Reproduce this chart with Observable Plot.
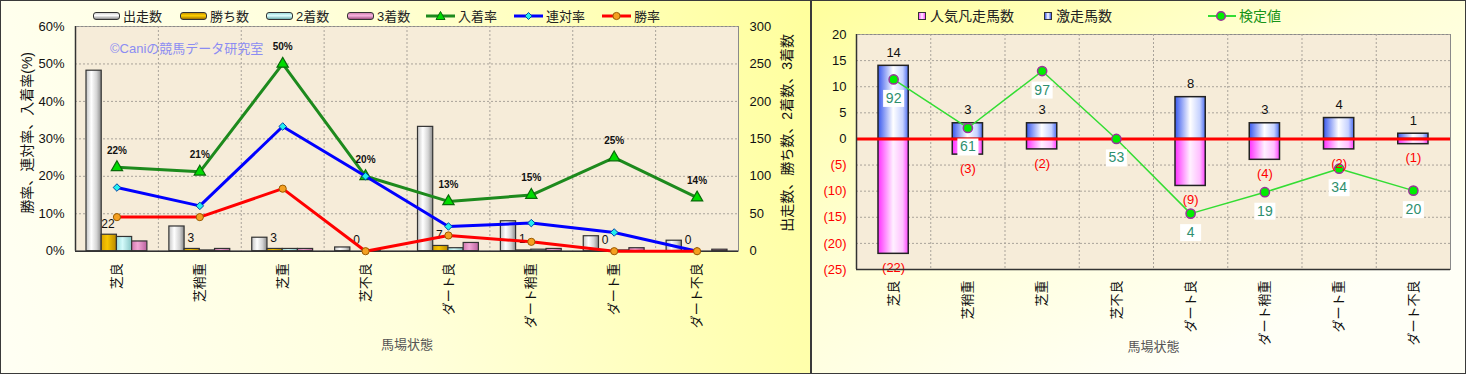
<!DOCTYPE html>
<html><head><meta charset="utf-8">
<script src="https://cdn.jsdelivr.net/npm/d3@7"></script>
<script src="https://cdn.jsdelivr.net/npm/@observablehq/plot@0.6"></script>
<style>
html,body{margin:0;padding:0;background:#fff;}
body{width:1466px;height:374px;overflow:hidden;font-family:"Liberation Sans","Noto Sans CJK JP",sans-serif;}
#wrap{position:relative;width:1466px;height:374px;}
.panel{position:absolute;top:0;height:374px;}
#left{left:0;width:811px;background:linear-gradient(72deg,#fffff4 0%,#ffffdc 45%,#ffff9c 100%);}
#right{left:811px;width:655px;background:linear-gradient(155deg,#ffff9c 0%,#ffffd6 40%,#fffff6 80%);}
.border{position:absolute;inset:0;box-shadow:inset 0 0 0 1px #3a3a3a;pointer-events:none;}
.layer{position:absolute;left:0;top:0;}
.leg{position:absolute;top:9px;height:14px;display:flex;align-items:center;font-size:13px;color:#222;white-space:nowrap;line-height:1;}
.bicon{display:inline-block;width:25px;height:6px;border:1px solid #333;border-radius:3px;margin-right:3px;}
.sq{display:inline-block;width:6px;height:6px;border:1px solid #333;margin-right:4px;}
#wm{position:absolute;left:110px;top:38px;font-size:13px;color:#8c8cf2;white-space:nowrap;}
</style></head>
<body><div id="wrap">
<div class="panel" id="left"></div>
<div class="panel" id="right"></div>
</div>
<script>
// ---------- data ----------
const categories = ["芝良","芝稍重","芝重","芝不良","ダート良","ダート稍重","ダート重","ダート不良"];
const starts  = [241, 33, 18, 5, 166, 40, 20, 14];   // 出走数
const wins    = [22, 3, 3, 0, 7, 1, 0, 0];           // 勝ち数
const seconds = [19, 1, 3, 1, 4, 2, 1, 0];           // 2着数
const thirds  = [13, 3, 3, 0, 11, 3, 4, 2];          // 3着数
const placeRate  = [22.4, 21.2, 50.0, 20.0, 13.3, 15.0, 25.0, 14.3]; // 入着率
const rentaiRate = [17.0, 12.1, 33.3, 20.0, 6.6, 7.5, 5.0, 0.0];     // 連対率
const winRate    = [9.1, 9.1, 16.7, 0.0, 4.2, 2.5, 0.0, 0.0];        // 勝率
const placeLabels = ["22%","21%","50%","20%","13%","15%","25%","14%"];
const rateTicks  = [0, 10, 20, 30, 40, 50, 60];
const countTicks = [0, 50, 100, 150, 200, 250, 300];

const gekiso   = [14, 3, 3, 0, 8, 3, 4, 1];          // 激走馬数
const bonso    = [-22, -3, -2, 0, -9, -4, -2, -1];   // 人気凡走馬数
const kenteiPos = [11.4, 2.1, 13.0, 0.0, -14.3, -10.2, -5.7, -9.9]; // 検定値 (plotted position)
const kenteiVal = [92, 61, 97, 53, 4, 19, 34, 20];   // 検定値 labels
const posTicks = [0, 5, 10, 15, 20];
const negTicks = [-25, -20, -15, -10, -5];

// ---------- tables ----------
const rowsL = categories.map((cat, i) => ({cat, starts: starts[i], wins: wins[i], seconds: seconds[i], thirds: thirds[i],
  place: placeRate[i], rentai: rentaiRate[i], win: winRate[i], placeLabel: placeLabels[i]}));
const rowsR = categories.map((cat, i) => ({cat, gekiso: gekiso[i], bonso: bonso[i], kentei: kenteiPos[i], kval: kenteiVal[i]}));

const FONT = '"Liberation Sans","Noto Sans CJK JP",sans-serif';
const H = 374;
// left geometry
const W1 = 811, mL1 = 75, mR1 = 73, mT1 = 26, mB1 = 123.3;
const bw1 = (W1 - mL1 - mR1) / categories.length;
// right geometry
const W2 = 655, mL2 = 45, mR2 = 16, mT2 = 34, mB2 = 105;
const bw2 = (W2 - mL2 - mR2) / categories.length;

const grid = {stroke: "#a9a39a", strokeDasharray: "2,2", strokeOpacity: 1, strokeWidth: 1};
const xCfg = {type: "band", domain: categories, padding: 0, round: false};

function barInset(i) {
  const g = 11, w = (bw1 - 2 * g) / 4;
  return {insetLeft: g + w * i, insetRight: bw1 - g - w * (i + 1)};
}

// ---------- left: bars layer ----------
const svgA = Plot.plot({
  width: W1, height: H, marginLeft: mL1, marginRight: mR1, marginTop: mT1, marginBottom: mB1,
  x: xCfg,
  y: {domain: [0, 300]},
  style: {background: "none", fontSize: "13px", fontFamily: FONT, color: "#111"},
  marks: [
    Plot.frame({fill: "#f6ecd9", stroke: "#8a8a8a"}),
    Plot.gridY(countTicks.slice(1), grid),
    Plot.ruleX(categories.slice(1), {dx: -bw1 / 2, ...grid}),
    Plot.barY(rowsL, {x: "cat", y: "starts", fill: "url(#gGray)", stroke: "#333", strokeWidth: 1.2, ...barInset(0)}),
    Plot.barY(rowsL, {x: "cat", y: "wins", fill: "url(#gGold)", stroke: "#333", strokeWidth: 1.2, ...barInset(1)}),
    Plot.barY(rowsL, {x: "cat", y: "seconds", fill: "url(#gCyan)", stroke: "#333", strokeWidth: 1.2, ...barInset(2)}),
    Plot.barY(rowsL, {x: "cat", y: "thirds", fill: "url(#gPink)", stroke: "#333", strokeWidth: 1.2, ...barInset(3)}),
    Plot.text(rowsL, {x: "cat", y: "wins", text: "wins", dx: -9, dy: -11, fontSize: 12, fill: "#111"}),
    Plot.ruleY([0], {stroke: "#333", strokeWidth: 1.5}),
    Plot.ruleX([categories[0]], {dx: -bw1 / 2, stroke: "#333", strokeWidth: 1.5}),
    Plot.axisY(countTicks, {anchor: "right", tickSize: 0, tickPadding: 11, label: null, fontSize: 13}),
    Plot.axisX({tickRotate: -90, tickSize: 0, tickPadding: 12, label: null, fontSize: 13}),
    Plot.text(["出走数、勝ち数、2着数、3着数"], {frameAnchor: "right", textAnchor: "middle", rotate: -90, dx: 49, dy: -6, fontSize: 14, fill: "#111"}),
    Plot.text(["馬場状態"], {frameAnchor: "bottom", dy: 98, fontSize: 13, fill: "#555"})
  ]
});

// ---------- left: lines layer ----------
const svgB = Plot.plot({
  width: W1, height: H, marginLeft: mL1, marginRight: mR1, marginTop: mT1, marginBottom: mB1,
  x: {...xCfg, axis: null},
  y: {domain: [0, 60]},
  style: {background: "none", fontSize: "13px", fontFamily: FONT, color: "#111"},
  marks: [
    Plot.axisY(rateTicks, {anchor: "left", tickSize: 0, tickPadding: 11, tickFormat: d => d + "%", label: null, fontSize: 13}),
    Plot.line(rowsL, {x: "cat", y: "place", stroke: "#1d8a1d", strokeWidth: 3}),
    Plot.dot(rowsL, {x: "cat", y: "place", symbol: "triangle", r: 4.2, fill: "#00dd00", stroke: "#0a6a0a", strokeWidth: 1.2}),
    Plot.line(rowsL, {x: "cat", y: "rentai", stroke: "#0000ff", strokeWidth: 3}),
    Plot.dot(rowsL, {x: "cat", y: "rentai", symbol: "diamond2", r: 3.4, fill: "#22eeee", stroke: "#0044aa", strokeWidth: 1}),
    Plot.line(rowsL, {x: "cat", y: "win", stroke: "#ff0000", strokeWidth: 3}),
    Plot.dot(rowsL, {x: "cat", y: "win", r: 3.6, fill: "#f4a020", stroke: "#9a5a00", strokeWidth: 1}),
    Plot.text(rowsL, {x: "cat", y: "place", text: "placeLabel", dy: -17, fontSize: 10, fontWeight: "bold", fill: "#111"}),
    Plot.text(["勝率、連対率、入着率(%)"], {frameAnchor: "left", textAnchor: "middle", rotate: -90, dx: -47.5, dy: -6, fontSize: 14, fill: "#111"})
  ]
});

// ---------- right ----------
const boxSymbol = {draw(ctx) { ctx.rect(-10.5, -8.5, 21, 17); }};
const svgC = Plot.plot({
  width: W2, height: H, marginLeft: mL2, marginRight: mR2, marginTop: mT2, marginBottom: mB2,
  x: xCfg,
  y: {domain: [-25, 20]},
  style: {background: "none", fontSize: "13px", fontFamily: FONT, color: "#111"},
  marks: [
    Plot.frame({fill: "#f6ecd9", stroke: "#8a8a8a"}),
    Plot.gridY([...negTicks.slice(1), ...posTicks], grid),
    Plot.ruleX(categories.slice(1), {dx: -bw2 / 2, ...grid}),
    Plot.barY(rowsR, {filter: d => d.bonso !== 0, x: "cat", y: "bonso", fill: "url(#gMag)", stroke: "#222", strokeWidth: 1.5, insetLeft: 22, insetRight: 22}),
    Plot.barY(rowsR, {filter: d => d.gekiso !== 0, x: "cat", y: "gekiso", fill: "url(#gBlue)", stroke: "#222", strokeWidth: 1.5, insetLeft: 22, insetRight: 22}),
    Plot.ruleY([0], {stroke: "#ff0000", strokeWidth: 3}),
    Plot.line(rowsR, {x: "cat", y: "kentei", stroke: "#33dd33", strokeWidth: 1.5}),
    Plot.dot(rowsR, {x: "cat", y: "kentei", r: 4.6, fill: "#00ee00", stroke: "#993399", strokeWidth: 1.5}),
    Plot.dot(rowsR, {x: "cat", y: "kentei", symbol: boxSymbol, fill: "#ffffff", stroke: "none", dy: 19}),
    Plot.text(rowsR, {x: "cat", y: "kentei", text: "kval", dy: 19, fill: "#2e8f6e", fontSize: 14}),
    Plot.text(rowsR, {filter: d => d.gekiso !== 0, x: "cat", y: "gekiso", text: "gekiso", dy: -13, fontSize: 13, fill: "#111"}),
    Plot.text(rowsR, {filter: d => d.bonso !== 0, x: "cat", y: "bonso", text: d => `(${-d.bonso})`, dy: 14, fontSize: 13, fill: "#ff0000"}),
    Plot.ruleY([-25], {stroke: "#333", strokeWidth: 1.5}),
    Plot.ruleX([categories[0]], {dx: -bw2 / 2, stroke: "#333", strokeWidth: 1.5}),
    Plot.axisY(posTicks, {tickSize: 0, tickPadding: 10, label: null, fontSize: 13, color: "#111"}),
    Plot.axisY(negTicks, {tickSize: 0, tickPadding: 10, label: null, fontSize: 13, color: "#ff0000", tickFormat: d => `(${-d})`}),
    Plot.axisX({tickRotate: -90, tickSize: 0, tickPadding: 11, label: null, fontSize: 13}),
    Plot.text(["馬場状態"], {frameAnchor: "bottom", dy: 81, fontSize: 13, fill: "#555"})
  ]
});

// ---------- gradients ----------
function addGrad(svg, id, stops) {
  let defs = d3.select(svg).select("defs");
  if (defs.empty()) defs = d3.select(svg).insert("defs", ":first-child");
  const g = defs.append("linearGradient").attr("id", id).attr("x1", 0).attr("x2", 1).attr("y1", 0).attr("y2", 0);
  stops.forEach(([o, c]) => g.append("stop").attr("offset", o).attr("stop-color", c));
}
addGrad(svgA, "gGray", [[0, "#c4c4c4"], [0.35, "#ffffff"], [0.7, "#d4d4d4"], [1, "#8a8a8a"]]);
addGrad(svgA, "gGold", [[0, "#d9a200"], [0.4, "#f7c600"], [1, "#b88800"]]);
addGrad(svgA, "gCyan", [[0, "#9edede"], [0.4, "#d4fafa"], [1, "#86c6c6"]]);
addGrad(svgA, "gPink", [[0, "#d278b0"], [0.4, "#f2a8d6"], [1, "#bc62a0"]]);
addGrad(svgC, "gBlue", [[0, "#3858ee"], [0.5, "#ffffff"], [0.82, "#c6d2ff"], [1, "#4c6cf0"]]);
addGrad(svgC, "gMag", [[0, "#ff30ff"], [0.5, "#fff0ff"], [0.82, "#ffc0ff"], [1, "#ff40ff"]]);

// ---------- assemble ----------
const left = document.getElementById("left");
const right = document.getElementById("right");
svgA.classList.add("layer"); svgB.classList.add("layer"); svgC.classList.add("layer");
left.appendChild(svgA);
const wm = document.createElement("div"); wm.id = "wm"; wm.textContent = "©Caniの競馬データ研究室";
left.appendChild(wm);
left.appendChild(svgB);
right.appendChild(svgC);

function legItem(parent, x, iconHTML, label, color) {
  const d = document.createElement("div");
  d.className = "leg"; d.style.left = x + "px";
  if (color) d.style.color = color;
  d.innerHTML = iconHTML + "<span>" + label + "</span>";
  parent.appendChild(d);
}
const bicon = bg => `<span class="bicon" style="background:${bg}"></span>`;
const lineIcon = (stroke, marker) => `<svg width="29" height="12" style="margin-right:3px"><line x1="0" x2="29" y1="6" y2="6" stroke="${stroke}" stroke-width="3"/>${marker}</svg>`;
legItem(left, 93, bicon("linear-gradient(#d0d0d0,#ffffff 40%,#8c8c8c)"), "出走数");
legItem(left, 180, bicon("linear-gradient(#c89200,#ffd200 45%,#a07000)"), "勝ち数");
legItem(left, 266, bicon("linear-gradient(#9cdada,#e0ffff 45%,#6eaeae)"), "2着数");
legItem(left, 347, bicon("linear-gradient(#d080b0,#f8b4e0 45%,#a05080)"), "3着数");
legItem(left, 426, lineIcon("#1d8a1d", `<path d="M14.5,1.5 L19,9.5 L10,9.5 Z" fill="#00dd00" stroke="#0a6a0a"/>`), "入着率");
legItem(left, 514, lineIcon("#0000ff", `<path d="M14.5,2.5 L18,6 L14.5,9.5 L11,6 Z" fill="#22eeee" stroke="#0044aa"/>`), "連対率");
legItem(left, 602, lineIcon("#ff0000", `<circle cx="14.5" cy="6" r="3.6" fill="#f4a020" stroke="#9a5a00"/>`), "勝率");

const rl = (x, html, label, color) => { legItem(right, x, html, label, color); };
rl(107, `<span class="sq" style="background:linear-gradient(90deg,#ff50ff,#fff0ff,#ff50ff)"></span>`, "人気凡走馬数");
rl(233, `<span class="sq" style="background:linear-gradient(90deg,#4060f0,#ffffff,#4060f0)"></span>`, "激走馬数");
rl(397, `<svg width="28" height="12" style="margin-right:3px"><line x1="0" x2="28" y1="6" y2="6" stroke="#33dd33" stroke-width="2"/><circle cx="13" cy="6" r="4.3" fill="#00ee00" stroke="#993399" stroke-width="1.5"/></svg>`, "検定値", "#179317");
right.querySelectorAll(".leg").forEach(e => e.style.fontSize = "14px");

// borders on top
[left, right].forEach(p => { const b = document.createElement("div"); b.className = "border"; p.appendChild(b); });
</script>
</body></html>
